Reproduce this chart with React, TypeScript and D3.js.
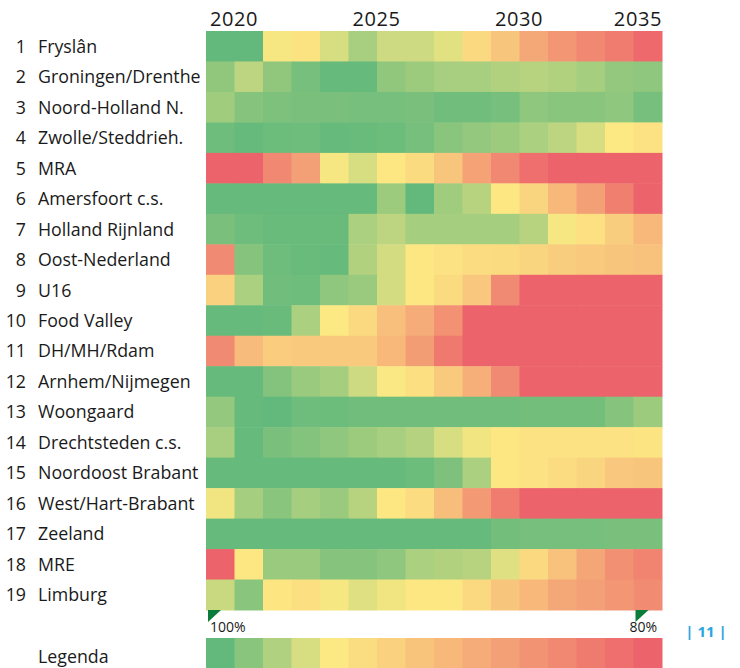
import React from "react";
import * as d3 from "d3";

const years = d3.range(2020, 2036);
const yearTicks = [2020, 2025, 2030, 2035];
const regions = [
  "Fryslân", "Groningen/Drenthe", "Noord-Holland N.", "Zwolle/Steddrieh.", "MRA",
  "Amersfoort c.s.", "Holland Rijnland", "Oost-Nederland", "U16", "Food Valley",
  "DH/MH/Rdam", "Arnhem/Nijmegen", "Woongaard", "Drechtsteden c.s.", "Noordoost Brabant",
  "West/Hart-Brabant", "Zeeland", "MRE", "Limburg",
];
// percentage per region per year (2020..2035)
const r01 = [100, 100, 94.9, 94.0, 96.0, 97.6, 96.3, 96.3, 95.6, 92.9, 90.7, 87.6, 85.6, 84.0, 82.7, 80.7];
const r02 = [98.4, 96.9, 98.4, 99.3, 99.9, 99.9, 98.4, 98.0, 97.6, 97.6, 97.3, 97.1, 97.3, 97.7, 98.3, 98.5];
const r03 = [97.9, 98.8, 99.1, 99.2, 99.2, 99.3, 99.3, 99.2, 99.5, 99.5, 99.3, 98.5, 98.7, 98.7, 98.5, 99.3];
const r04 = [99.6, 99.9, 99.7, 99.6, 99.9, 99.8, 99.7, 99.3, 98.7, 98.3, 98.0, 97.5, 96.9, 96.0, 94.7, 93.9];
const r05 = [80.0, 80.0, 84.0, 86.7, 94.9, 96.0, 94.5, 93.1, 90.7, 86.9, 84.0, 81.3, 80.0, 80.0, 80.0, 80.0];
const r06 = [99.9, 99.9, 99.9, 99.9, 99.9, 99.9, 98.0, 100, 97.9, 97.1, 94.5, 92.5, 89.3, 86.7, 83.1, 80.0];
const r07 = [99.2, 99.6, 99.8, 99.8, 99.8, 97.5, 96.9, 97.7, 97.7, 97.7, 97.7, 97.1, 94.9, 93.7, 91.6, 89.3];
const r08 = [84.3, 98.8, 99.6, 99.8, 99.9, 97.3, 96.1, 94.5, 93.9, 93.2, 93.1, 92.5, 91.6, 91.2, 90.7, 90.4];
const r09 = [92.0, 97.5, 99.5, 99.6, 98.5, 98.1, 96.1, 94.4, 93.1, 90.9, 84.3, 80.0, 80.0, 80.0, 80.0, 80.0];
const r10 = [99.9, 99.9, 99.8, 97.5, 94.7, 92.9, 90.1, 88.0, 85.1, 80.0, 80.0, 80.0, 80.0, 80.0, 80.0, 80.0];
const r11 = [84.3, 89.6, 91.5, 91.3, 91.3, 91.3, 89.3, 86.3, 82.3, 80.0, 80.0, 80.0, 80.0, 80.0, 80.0, 80.0];
const r12 = [99.9, 99.9, 98.9, 98.1, 97.7, 96.3, 94.8, 93.6, 91.3, 88.3, 84.3, 80.0, 80.0, 80.0, 80.0, 80.0];
const r13 = [98.3, 99.9, 100, 99.6, 99.7, 99.5, 99.5, 99.5, 99.5, 99.5, 99.5, 99.4, 99.4, 99.4, 98.8, 98.0];
const r14 = [97.6, 99.9, 99.2, 98.9, 98.5, 98.0, 97.6, 97.2, 96.0, 95.1, 94.5, 93.9, 93.9, 93.9, 93.9, 94.1];
const r15 = [99.9, 99.9, 99.9, 99.9, 99.9, 99.9, 99.9, 99.7, 99.1, 97.5, 94.5, 93.9, 93.2, 92.5, 90.9, 90.7];
const r16 = [95.1, 97.7, 98.7, 97.7, 98.1, 97.1, 94.5, 93.2, 89.9, 86.0, 82.7, 80.0, 80.0, 80.0, 80.0, 80.0];
const r17 = [99.9, 99.9, 99.9, 99.9, 99.9, 99.9, 99.9, 99.9, 99.9, 99.9, 99.4, 99.3, 99.3, 99.3, 99.2, 99.2];
const r18 = [80.0, 94.5, 98.1, 98.1, 98.8, 98.8, 98.5, 97.5, 97.3, 97.1, 95.7, 92.9, 90.4, 87.3, 84.9, 83.6];
const r19 = [96.5, 98.7, 94.3, 93.6, 94.9, 95.7, 95.1, 94.4, 94.4, 92.9, 90.7, 89.3, 87.6, 86.7, 85.6, 84.4];
const values = [r01, r02, r03, r04, r05, r06, r07, r08, r09, r10, r11, r12, r13, r14, r15, r16, r17, r18, r19];
const legendValues = d3.range(16).map((i) => 100 - (i * 20) / 15);
const legendLabels = ["100%", "80%"];

const FONT = "'Open Sans', 'Noto Sans', sans-serif";

export default function App() {
  const x = d3.scaleBand<number>().domain(years).range([206, 662]);
  const y = d3.scaleBand<string>().domain(regions).range([31, 610]);
  const color = d3
    .scaleLinear<string>()
    .domain([100, 94.67, 80])
    .range(["#63b97b", "#fde983", "#ec636b"])
    .clamp(true);
  const bw = x.bandwidth();
  const bh = y.bandwidth();
  const legY = 638;
  const first = x(2020)!;
  const last = x(2035)!;

  return (
    <svg width={740} height={668} style={{ position: "absolute", left: 0, top: 0, background: "#fff" }}>
      {yearTicks.map((yr) => {
        const isLast = yr === 2035;
        return (
          <text
            key={yr}
            x={isLast ? x(yr)! + bw : x(yr)! + 4}
            y={26}
            textAnchor={isLast ? "end" : "start"}
            fontFamily={FONT}
            fontSize={20}
            letterSpacing={0.6}
            fill="#1a1a1a"
          >
            {yr}
          </text>
        );
      })}
      {regions.map((r, i) => (
        <g key={r}>
          <text x={26} y={y(r)! + bh / 2 + 6.5} textAnchor="end" fontFamily={FONT} fontSize={17.8} fill="#1a1a1a">
            {i + 1}
          </text>
          <text x={38} y={y(r)! + bh / 2 + 6.5} fontFamily={FONT} fontSize={17.8} fill="#1a1a1a">
            {r}
          </text>
          {values[i].map((v, j) => (
            <rect
              key={j}
              x={x(years[j])!}
              y={y(r)!}
              width={bw + 0.5}
              height={bh + 0.5}
              fill={color(v)}
            />
          ))}
        </g>
      ))}
      {[first, last].map((px, k) => (
        <g key={k}>
          <path d={`M${px + 2},610 L${px + 15},610 L${px + 2},622 Z`} fill="#0a7d3b" />
          <text
            x={k === 0 ? px + 4 : px + bw - 5}
            y={632}
            textAnchor={k === 0 ? "start" : "end"}
            fontFamily={FONT}
            fontSize={14}
            fill="#1a1a1a"
          >
            {legendLabels[k]}
          </text>
        </g>
      ))}
      <text x={38} y={663} fontFamily={FONT} fontSize={17.8} fill="#1a1a1a">
        Legenda
      </text>
      {legendValues.map((v, j) => (
        <rect key={j} x={x(years[j])!} y={legY} width={bw + 0.5} height={30} fill={color(v)} />
      ))}
      <text x={706} y={637} textAnchor="middle" fontFamily={FONT} fontSize={15} fontWeight="bold" fill="#2aa5e0">
        | 11 |
      </text>
    </svg>
  );
}
